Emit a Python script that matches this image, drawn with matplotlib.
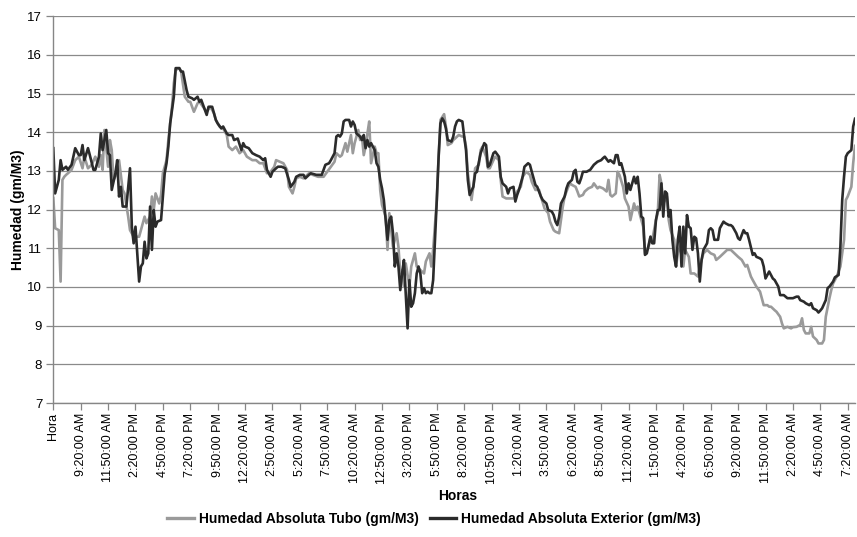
import matplotlib
matplotlib.use("Agg")
import matplotlib.pyplot as plt
from matplotlib.lines import Line2D

plt.rcParams['font.family'] = ['Liberation Sans', 'DejaVu Sans']

# ---------------- data ----------------
tick_labels = ["Hora", "9:20:00 AM", "11:50:00 AM", "2:20:00 PM", "4:50:00 PM", "7:20:00 PM",
               "9:50:00 PM", "12:20:00 AM", "2:50:00 AM", "5:20:00 AM", "7:50:00 AM",
               "10:20:00 AM", "12:50:00 PM", "3:20:00 PM", "5:50:00 PM", "8:20:00 PM",
               "10:50:00 PM", "1:20:00 AM", "3:50:00 AM", "6:20:00 AM", "8:50:00 AM",
               "11:20:00 AM", "1:50:00 PM", "4:20:00 PM", "6:50:00 PM", "9:20:00 PM",
               "11:50:00 PM", "2:20:00 AM", "4:50:00 AM", "7:20:00 AM"]
label_step = 15          # one label every 15 readings (10-minute readings)
n_categories = 440

series_names = ["Humedad Absoluta Tubo (gm/M3)", "Humedad Absoluta Exterior (gm/M3)"]

tubo_idx = [0, 1, 3, 4, 5, 6, 7, 8, 10, 12, 14, 16, 17, 19, 21, 23, 25, 26, 27, 28, 30, 31, 32, 33,
            35, 36, 38, 39, 41, 42, 44, 47, 48, 50, 51, 53, 54, 55, 56, 58, 59, 60, 62, 63, 65, 66,
            67, 69, 70, 72, 74, 75, 77, 79, 80, 82, 84, 86, 88, 89, 91, 93, 95, 96, 98, 100, 102,
            104, 106, 109, 111, 113, 115, 117, 119, 121, 122, 124, 126, 128, 129, 131, 132, 133,
            135, 137, 140, 142, 145, 148, 150, 152, 154, 155, 157, 158, 160, 161, 163, 164, 165,
            167, 168, 169, 170, 171, 172, 173, 174, 176, 177, 178, 179, 180, 182, 183, 184, 186,
            187, 188, 189, 190, 191, 192, 193, 194, 195, 196, 197, 198, 199, 201, 203, 204, 206,
            207, 208, 210, 211, 212, 214, 215, 216, 218, 219, 220, 222, 224, 225, 226, 227, 229,
            230, 231, 233, 234, 235, 237, 238, 239, 241, 242, 244, 245, 246, 248, 250, 252, 254,
            256, 257, 259, 261, 262, 264, 266, 267, 269, 271, 272, 274, 275, 277, 278, 279, 280,
            282, 283, 284, 286, 287, 288, 290, 291, 293, 295, 296, 298, 299, 301, 303, 304, 305,
            306, 308, 309, 310, 312, 313, 315, 316, 318, 319, 320, 322, 323, 324, 326, 327, 328,
            330, 331, 332, 333, 334, 336, 337, 338, 340, 341, 342, 344, 345, 346, 348, 349, 351,
            352, 353, 354, 356, 358, 360, 362, 363, 365, 367, 369, 371, 373, 375, 377, 379, 380,
            382, 383, 385, 387, 388, 389, 391, 392, 393, 395, 396, 398, 399, 400, 402, 404, 405,
            407, 409, 410, 411, 412, 414, 415, 416, 418, 419, 421, 422, 423, 425, 426, 427, 429,
            431, 433, 434, 435, 437, 438, 439]
tubo_val = [12.30, 11.52, 11.47, 10.14, 12.77, 12.85, 12.90, 12.94, 13.03, 13.28, 13.37, 13.07,
            13.37, 13.07, 13.16, 13.37, 13.11, 13.41, 13.03, 14.06, 13.11, 13.80, 13.54, 12.77,
            12.94, 13.28, 12.51, 12.42, 11.82, 11.47, 11.30, 11.30, 11.47, 11.82, 11.65, 11.82,
            12.34, 11.99, 12.42, 12.16, 12.38, 12.94, 13.28, 13.80, 14.66, 15.27, 15.61, 15.66,
            15.57, 14.92, 14.79, 14.79, 14.53, 14.75, 14.79, 14.66, 14.53, 14.66, 14.49, 14.32,
            14.15, 14.10, 13.93, 13.63, 13.54, 13.63, 13.46, 13.54, 13.37, 13.28, 13.28, 13.20,
            13.20, 12.94, 12.98, 13.11, 13.28, 13.24, 13.20, 13.03, 12.59, 12.42, 12.59, 12.81,
            12.85, 12.81, 12.94, 12.90, 12.85, 12.85, 12.98, 13.11, 13.24, 13.46, 13.37, 13.41,
            13.72, 13.50, 13.93, 13.46, 13.72, 14.06, 13.80, 13.89, 13.41, 13.63, 13.97, 14.28,
            13.20, 13.63, 13.46, 13.46, 12.51, 12.12, 11.82, 10.96, 11.91, 11.04, 11.22, 11.39,
            11.04, 10.35, 10.44, 10.01, 10.61, 10.31, 10.01, 10.53, 10.70, 10.87, 10.53, 10.44,
            10.35, 10.66, 10.87, 10.53, 10.96, 12.25, 13.37, 14.32, 14.47, 14.15, 13.67, 13.72,
            13.80, 13.84, 13.93, 13.89, 13.89, 13.63, 12.94, 12.25, 12.59, 13.07, 13.16, 13.54,
            13.63, 13.37, 13.07, 13.07, 13.28, 13.37, 13.28, 12.77, 12.34, 12.29, 12.29, 12.29,
            12.47, 12.59, 12.85, 12.98, 12.90, 12.72, 12.51, 12.51, 12.34, 12.03, 11.91, 11.69,
            11.47, 11.43, 11.39, 11.73, 12.08, 12.34, 12.59, 12.68, 12.64, 12.59, 12.47, 12.34,
            12.38, 12.47, 12.55, 12.59, 12.68, 12.55, 12.59, 12.55, 12.47, 12.77, 12.38, 12.34,
            12.42, 12.98, 12.90, 12.59, 12.29, 12.08, 11.73, 12.16, 11.99, 12.08, 11.73, 11.56,
            10.87, 11.04, 11.30, 11.22, 11.73, 11.91, 12.90, 12.68, 12.16, 12.34, 11.73, 11.47,
            11.22, 10.53, 10.87, 11.13, 10.53, 10.96, 10.78, 10.35, 10.35, 10.31, 10.27, 10.53,
            10.87, 10.96, 10.87, 10.83, 10.70, 10.78, 10.87, 10.96, 10.96, 10.87, 10.78, 10.70,
            10.53, 10.57, 10.27, 10.18, 10.01, 9.88, 9.71, 9.53, 9.53, 9.49, 9.49, 9.40, 9.36,
            9.23, 9.06, 8.93, 8.97, 8.93, 8.96, 8.97, 9.02, 9.19, 8.89, 8.80, 8.80, 8.97, 8.72,
            8.63, 8.54, 8.54, 8.63, 9.23, 9.71, 9.92, 10.09, 10.27, 10.53, 11.22, 12.25, 12.34,
            12.59, 13.20, 13.65]

ext_idx = [0, 1, 3, 4, 5, 7, 8, 10, 12, 14, 15, 16, 17, 19, 20, 22, 23, 25, 26, 27, 29, 30, 31, 32,
           34, 35, 36, 37, 38, 40, 41, 42, 43, 44, 45, 46, 47, 48, 49, 50, 51, 52, 53, 54, 55, 56,
           57, 59, 60, 61, 62, 63, 64, 66, 67, 69, 70, 71, 73, 74, 76, 77, 78, 79, 80, 81, 82, 84,
           85, 87, 89, 90, 92, 93, 95, 96, 98, 99, 101, 103, 104, 105, 107, 109, 111, 113, 115,
           116, 117, 118, 119, 120, 122, 123, 125, 127, 129, 130, 132, 133, 135, 137, 138, 140,
           141, 144, 147, 149, 151, 152, 154, 155, 156, 157, 158, 159, 160, 162, 163, 164, 165,
           166, 168, 169, 170, 171, 172, 173, 174, 176, 177, 178, 179, 180, 181, 182, 183, 184,
           185, 186, 187, 188, 189, 190, 191, 192, 193, 194, 195, 196, 197, 198, 199, 200, 201,
           202, 203, 204, 205, 206, 207, 208, 209, 210, 211, 212, 213, 214, 215, 216, 218, 219,
           220, 221, 222, 224, 225, 226, 227, 228, 230, 231, 232, 234, 236, 237, 238, 239, 241,
           242, 244, 245, 246, 248, 249, 250, 252, 253, 254, 255, 257, 258, 260, 261, 262, 264,
           265, 267, 268, 270, 271, 273, 274, 275, 276, 277, 278, 280, 281, 282, 284, 285, 286,
           287, 288, 289, 290, 292, 294, 296, 297, 298, 300, 301, 302, 304, 305, 307, 308, 309,
           310, 311, 312, 313, 314, 315, 316, 318, 319, 320, 321, 322, 323, 324, 325, 327, 328,
           329, 330, 331, 332, 333, 334, 335, 336, 337, 338, 339, 340, 341, 342, 343, 344, 345,
           346, 347, 348, 349, 350, 351, 352, 353, 354, 355, 356, 358, 359, 360, 361, 362, 364,
           365, 367, 368, 370, 371, 372, 374, 375, 376, 378, 379, 380, 381, 383, 384, 385, 387,
           388, 389, 390, 392, 393, 394, 395, 397, 398, 400, 402, 403, 405, 407, 408, 409, 411,
           412, 414, 415, 416, 418, 419, 420, 421, 423, 424, 425, 427, 428, 430, 431, 432, 433,
           434, 435, 437, 438, 439]
ext_val = [13.59, 12.42, 12.77, 13.28, 13.03, 13.11, 13.03, 13.16, 13.59, 13.41, 13.41, 13.67,
           13.28, 13.59, 13.41, 13.03, 13.03, 13.37, 13.97, 13.54, 14.06, 13.46, 13.41, 12.51,
           12.94, 13.28, 12.34, 12.59, 12.08, 12.08, 12.59, 13.07, 11.56, 11.13, 11.56, 10.87,
           10.14, 10.53, 10.61, 11.17, 10.74, 10.87, 12.08, 10.96, 11.99, 11.56, 11.69, 11.73,
           12.34, 12.94, 13.20, 13.63, 14.23, 14.92, 15.66, 15.66, 15.57, 15.57, 15.09, 14.92,
           14.88, 14.84, 14.88, 14.92, 14.79, 14.84, 14.71, 14.45, 14.66, 14.66, 14.32, 14.23,
           14.10, 14.15, 13.97, 13.93, 13.93, 13.80, 13.84, 13.54, 13.72, 13.63, 13.59, 13.46,
           13.41, 13.37, 13.28, 13.33, 13.03, 12.94, 12.85, 12.98, 13.07, 13.11, 13.11, 13.07,
           12.77, 12.59, 12.72, 12.85, 12.90, 12.90, 12.81, 12.90, 12.94, 12.90, 12.90, 13.16,
           13.20, 13.28, 13.46, 13.89, 13.93, 13.89, 13.97, 14.28, 14.32, 14.32, 14.15, 14.28,
           14.19, 13.97, 13.89, 13.80, 13.93, 13.59, 13.80, 13.63, 13.72, 13.54, 13.20, 13.11,
           12.77, 12.55, 12.25, 11.73, 11.22, 11.73, 11.82, 11.39, 10.53, 10.87, 10.53, 9.92,
           10.35, 10.70, 9.84, 8.93, 10.18, 9.49, 9.58, 9.84, 10.35, 10.53, 10.35, 9.84, 9.97,
           9.84, 9.88, 9.84, 9.84, 10.18, 11.22, 12.25, 13.37, 14.23, 14.36, 14.28, 14.10, 13.80,
           13.76, 13.89, 14.15, 14.28, 14.32, 14.28, 13.89, 13.54, 12.77, 12.38, 12.59, 12.94,
           12.98, 13.46, 13.72, 13.67, 13.11, 13.16, 13.46, 13.50, 13.37, 12.85, 12.68, 12.59,
           12.42, 12.55, 12.59, 12.21, 12.38, 12.51, 12.85, 13.11, 13.20, 13.16, 12.98, 12.64,
           12.59, 12.34, 12.25, 12.16, 11.99, 11.95, 11.86, 11.69, 11.60, 11.82, 12.16, 12.34,
           12.55, 12.68, 12.77, 12.98, 13.03, 12.72, 12.68, 12.81, 12.98, 12.98, 13.03, 13.16,
           13.20, 13.24, 13.28, 13.33, 13.37, 13.24, 13.28, 13.20, 13.41, 13.41, 13.16, 13.20,
           13.03, 12.85, 12.42, 12.68, 12.51, 12.85, 12.68, 12.85, 12.42, 11.82, 11.78, 10.83,
           10.87, 11.30, 11.13, 11.13, 11.73, 11.99, 11.99, 12.68, 11.82, 12.47, 12.42, 11.82,
           11.99, 11.22, 10.78, 10.53, 11.22, 11.56, 10.53, 11.56, 10.87, 11.86, 11.56, 11.52,
           10.96, 11.30, 11.26, 10.87, 10.14, 10.70, 10.96, 11.13, 11.47, 11.52, 11.47, 11.22,
           11.22, 11.52, 11.69, 11.65, 11.60, 11.60, 11.56, 11.39, 11.26, 11.22, 11.47, 11.39,
           11.39, 11.22, 10.83, 10.87, 10.78, 10.74, 10.70, 10.53, 10.22, 10.40, 10.31, 10.22,
           10.18, 10.01, 9.79, 9.79, 9.71, 9.71, 9.71, 9.75, 9.75, 9.66, 9.62, 9.58, 9.53, 9.58,
           9.45, 9.40, 9.34, 9.39, 9.45, 9.66, 9.97, 10.01, 10.14, 10.25, 10.31, 11.04, 12.25,
           12.85, 13.37, 13.46, 13.54, 14.15, 14.35]

y_min, y_max = 7, 17

# ---------------- figure ----------------
W, H = 857, 537
fig = plt.figure(figsize=(W / 100, H / 100), dpi=100)
ax = fig.add_axes([53.3 / W, 1 - 403 / H, (855 - 53.3) / W, (403 - 16.3) / H])

axis_col = "#868686"
grid_col = "#8a8a8a"
tubo_col = "#9a9a9a"
ext_col = "#2b2b2b"

ax.set_xlim(0, n_categories - 1)
ax.set_ylim(y_min, y_max)
ax.set_yticks(range(y_min, y_max + 1))
ax.yaxis.grid(True, color=grid_col, linewidth=0.9)
ax.set_axisbelow(True)

l1, = ax.plot(tubo_idx, tubo_val, color=tubo_col, linewidth=1.9, solid_joinstyle='round')
l2, = ax.plot(ext_idx, ext_val, color=ext_col, linewidth=1.9, solid_joinstyle='round')

ax.set_xticks([i * label_step for i in range(len(tick_labels))])
ax.set_xticklabels(tick_labels, rotation=90, ha='center', va='top', fontsize=9)
ax.tick_params(axis='y', labelsize=9.5, length=5, width=0.9, color=axis_col, pad=3)
ax.tick_params(axis='x', length=5, width=0.9, color=axis_col, pad=2)

for s in ['top', 'right']:
    ax.spines[s].set_visible(False)
for s in ['left', 'bottom']:
    ax.spines[s].set_color(axis_col)
    ax.spines[s].set_linewidth(1.0)

fig.text(18 / W, 1 - 210 / H, "Humedad (gm/M3)", rotation=90, ha='center', va='center',
         fontsize=10, fontweight='bold')
fig.text(458 / W, 1 - 496 / H, "Horas", ha='center', va='center',
         fontsize=10, fontweight='bold')

handles = [Line2D([], [], color=tubo_col, linewidth=2.4),
           Line2D([], [], color=ext_col, linewidth=2.4)]
fig.legend(handles, series_names, loc='center', bbox_to_anchor=(434 / W, 1 - 519 / H),
           ncol=2, frameon=False, handlelength=1.9, handletextpad=0.35, columnspacing=0.8,
           prop={'weight': 'bold', 'size': 10})

fig.savefig("out.png", dpi=100)
